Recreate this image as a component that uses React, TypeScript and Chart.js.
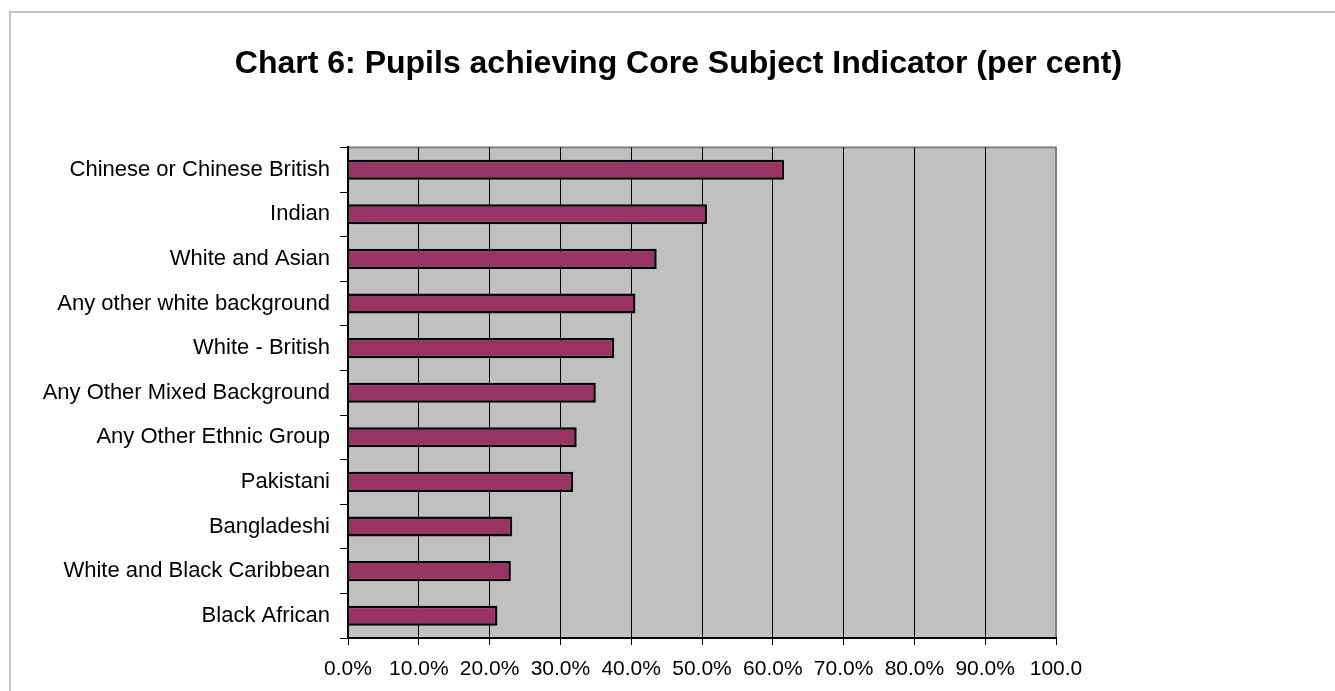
import React, { useEffect, useRef } from "react";
import { Chart, registerables } from "chart.js";

Chart.register(...registerables);

const categories: string[] = [
  "Chinese or Chinese British",
  "Indian",
  "White and Asian",
  "Any other white background",
  "White - British",
  "Any Other Mixed Background",
  "Any Other Ethnic Group",
  "Pakistani",
  "Bangladeshi",
  "White and Black Caribbean",
  "Black African",
];

const values: number[] = [61.6, 50.7, 43.6, 40.6, 37.6, 35.0, 32.3, 31.8, 23.2, 23.0, 21.1];

const xTickLabels: string[] = [
  "0.0%", "10.0%", "20.0%", "30.0%", "40.0%", "50.0%",
  "60.0%", "70.0%", "80.0%", "90.0%", "100.0",
];

const titleText = "Chart 6: Pupils achieving Core Subject Indicator (per cent)";

const FONT = "Arial, 'Liberation Sans', Helvetica, sans-serif";

const plotBg = {
  id: "plotBg",
  beforeDraw(chart: any) {
    const { ctx, chartArea } = chart;
    if (!chartArea) return;
    ctx.save();
    ctx.fillStyle = "#c0c0c0";
    ctx.fillRect(chartArea.left, chartArea.top, chartArea.right - chartArea.left, chartArea.bottom - chartArea.top);
    ctx.strokeStyle = "#808080";
    ctx.lineWidth = 2;
    ctx.strokeRect(chartArea.left, chartArea.top, chartArea.right - chartArea.left, chartArea.bottom - chartArea.top);
    ctx.restore();
  },
};

export default function App() {
  const ref = useRef<HTMLCanvasElement | null>(null);

  useEffect(() => {
    if (!ref.current) return;
    const chart = new Chart(ref.current, {
      type: "bar",
      data: {
        labels: categories,
        datasets: [
          {
            data: values,
            backgroundColor: "#993366",
            borderColor: "#000000",
            borderWidth: 2.5,
            categoryPercentage: 1,
            barPercentage: 0.45,
          },
        ],
      },
      plugins: [plotBg],
      options: {
        indexAxis: "y",
        animation: false,
        responsive: false,
        devicePixelRatio: 1,
        layout: { padding: { left: 22, right: 0, top: 45, bottom: 0 } },
        plugins: {
          legend: { display: false },
          tooltip: { enabled: false },
          title: {
            display: true,
            text: titleText,
            color: "#000000",
            font: { family: FONT, size: 32, weight: "bold" },
            padding: { top: 0, bottom: 64 },
          },
        },
        scales: {
          x: {
            type: "linear",
            position: "bottom",
            min: 0,
            max: 100,
            afterFit: (scale: any) => {
              scale.height = 53;
            },
            ticks: {
              stepSize: 10,
              autoSkip: false,
              maxRotation: 0,
              color: "#000000",
              font: { family: FONT, size: 21 },
              padding: 12,
              callback: (_v: any, i: number) => xTickLabels[i],
            },
            grid: {
              color: (ctx: any) => (ctx.tick && ctx.tick.value === 100 ? "#808080" : "#000000"),
              lineWidth: 1,
              tickColor: "#000000",
              tickLength: 7,
              drawTicks: true,
            },
            border: { display: true, color: "#000000", width: 2 },
          },
          y: {
            type: "category",
            position: "left",
            afterFit: (scale: any) => {
              scale.width = 326;
            },
            ticks: {
              autoSkip: false,
              color: "#000000",
              font: { family: FONT, size: 22 },
              padding: 10,
            },
            grid: {
              offset: true,
              drawOnChartArea: false,
              drawTicks: true,
              tickLength: 8,
              tickColor: "#000000",
              lineWidth: 1,
            },
            border: { display: true, color: "#000000", width: 2 },
          },
          yRight: {
            type: "linear",
            axis: "y",
            position: "right",
            display: true,
            afterFit: (scale: any) => {
              scale.width = 279;
            },
            ticks: { display: false },
            grid: { display: false, drawTicks: false },
            border: { display: false },
          },
        },
      },
    } as any);
    return () => chart.destroy();
  }, []);

  return (
    <div style={{ position: "fixed", left: 0, top: 0, width: 1335, height: 691, overflow: "hidden", background: "#ffffff" }}>
      <div
        style={{
          position: "absolute",
          left: 9,
          top: 11,
          width: 1400,
          height: 800,
          borderLeft: "2px solid #c4c4c4",
          borderTop: "2px solid #c4c4c4",
        }}
      />
      <canvas ref={ref} width={1335} height={691} style={{ position: "absolute", left: 0, top: 0, width: 1335, height: 691 }} />
    </div>
  );
}
